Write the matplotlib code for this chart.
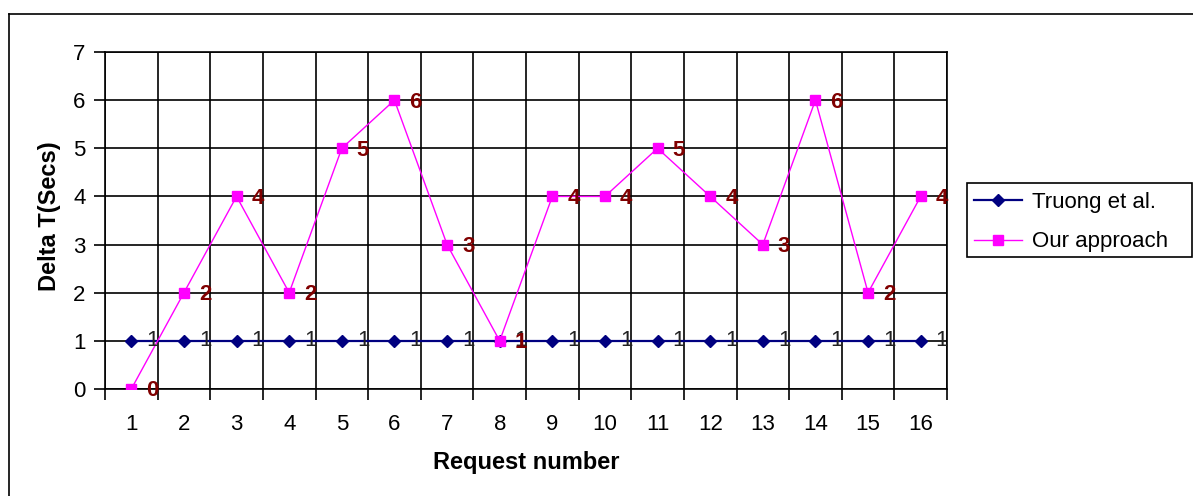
import matplotlib
matplotlib.use("Agg")
import matplotlib.pyplot as plt
from matplotlib.lines import Line2D
from matplotlib.patches import Rectangle

requests = list(range(1, 17))
truong = [1] * 16
ours = [0, 2, 4, 2, 5, 6, 3, 1, 4, 4, 5, 4, 3, 6, 2, 4]
yticks = [0, 1, 2, 3, 4, 5, 6, 7]

plt.rcParams['font.family'] = ['Liberation Sans', 'DejaVu Sans']

W, H = 1193, 496
fig = plt.figure(figsize=(W / 100, H / 100), dpi=100)
fig.patch.set_facecolor('white')

# outer chart border (left and top visible, rest cut off)
fig.add_artist(Line2D([9 / W, 9 / W], [0, 1 - 14 / H], transform=fig.transFigure, color='black', lw=1.2))
fig.add_artist(Line2D([9 / W, 1], [1 - 14 / H, 1 - 14 / H], transform=fig.transFigure, color='black', lw=1.2))

left, right, top, bottom = 105, 947, 52, 389
ax = fig.add_axes([left / W, 1 - bottom / H, (right - left) / W, (bottom - top) / H])

ax.set_xlim(0.5, 16.5)
ax.set_ylim(0, 7)

# grid
for y in yticks:
    ax.axhline(y, color='black', lw=1.2, zorder=1)
for b in range(0, 17):
    ax.axvline(b + 0.5, color='black', lw=1.2, zorder=1)

ax.plot(requests, truong, color='#000080', lw=1.6, marker='D', markersize=6.5,
        markerfacecolor='#000080', markeredgecolor='#000080', zorder=3, label='Truong et al.')
ax.plot(requests, ours, color='#FF00FF', lw=1.0, marker='s', markersize=7.5,
        markerfacecolor='#FF00FF', markeredgecolor='#FF00FF', zorder=4, label='Our approach')

for x, v in zip(requests, truong):
    ax.annotate(str(v), (x, v), xytext=(15, 0), textcoords='offset pixels',
                ha='left', va='center', fontsize=16, color='#222222', zorder=5)
for x, v in zip(requests, ours):
    ax.annotate(str(v), (x, v), xytext=(15, -2), textcoords='offset pixels',
                ha='left', va='center', fontsize=16, color='#800000', fontweight='bold', zorder=6)

# ticks
ax.set_xticks([b + 0.5 for b in range(0, 17)])
ax.set_xticklabels([])
ax.set_xticks(requests, minor=True)
ax.set_xticklabels([str(r) for r in requests], minor=True, fontsize=16)
ax.tick_params(axis='x', which='major', direction='out', length=8, width=1.2, color='black')
ax.tick_params(axis='x', which='minor', length=0, pad=18)
ax.set_yticks(yticks)
ax.set_yticklabels([str(y) for y in yticks], fontsize=16)
ax.tick_params(axis='y', direction='out', length=8, width=1.2, pad=6)

for s in ax.spines.values():
    s.set_linewidth(1.2)
    s.set_color('black')

ax.set_xlabel('Request number', fontsize=17, fontweight='bold')
ax.xaxis.set_label_coords((left + right) / 2 / W, 1 - 463 / H, transform=fig.transFigure)
ax.xaxis.label.set_va('center')
ax.set_ylabel('Delta T(Secs)', fontsize=17, fontweight='bold')
ax.yaxis.set_label_coords(50 / W, 1 - 216 / H, transform=fig.transFigure)
ax.yaxis.label.set_va('center')
ax.yaxis.label.set_ha('center')

# legend box
fig.add_artist(Rectangle((967 / W, 1 - 257 / H), (1192 - 967) / W, 74 / H, transform=fig.transFigure,
                         facecolor='white', edgecolor='black', lw=1.2))
leg = fig.legend(loc='center left', bbox_to_anchor=(974 / W, 1 - 222 / H), fontsize=16,
                 frameon=False, borderpad=0, handlelength=2.15, handletextpad=0.45,
                 labelspacing=0.85, borderaxespad=0)

fig.savefig('out.png', dpi=100)
